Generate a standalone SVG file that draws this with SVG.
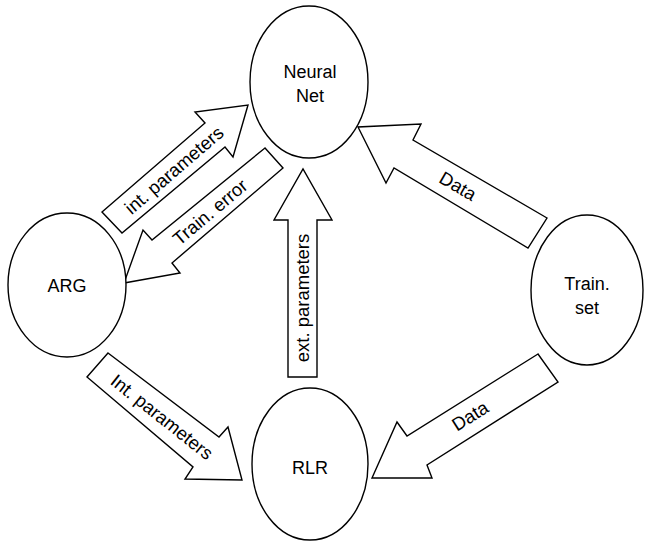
<svg xmlns="http://www.w3.org/2000/svg" width="645" height="542" viewBox="0 0 645 542">
<style>
.n{fill:#fff;stroke:#000;stroke-width:1.4}
.a{fill:#fff;stroke:#000;stroke-width:1.4;stroke-linejoin:miter}
text{font-family:"Liberation Sans",Arial,sans-serif;font-size:18px;fill:#000;text-anchor:middle;dominant-baseline:central}
.l{font-size:18.5px}
</style>
<rect width="645" height="542" fill="#fff"/>
<g id="connectors">
<g id="int-params-top"><polygon class="a" points="102,212 205,123 195,112 248,105 233,157 225,147 122,233"/><text class="l" transform="translate(174,170) rotate(-40.8)">int. parameters</text></g>
<g id="train-error"><polygon class="a" points="265,148 152,240 143,230 124,283 180,273 172,263 283,168"/><text class="l" transform="translate(210,212) rotate(-40)">Train. error</text></g>
<g id="data-top"><polygon class="a" points="547,218 413,140 421,124 358,127 386,183 394,168 528,248"/><text class="l" transform="translate(458,186) rotate(30.2)">Data</text></g>
<g id="ext-params"><polygon class="a" points="288,377 288,220 274,220 303,169 332,220 317,220 317,377"/><text class="l" transform="translate(302,298) rotate(-90)">ext. parameters</text></g>
<g id="int-params-bottom"><polygon class="a" points="108,353 219,437 228,427 242,480 185,479 193,467 87,377"/><text class="l" transform="translate(162,417) rotate(38.5)">Int. parameters</text></g>
<g id="data-bottom"><polygon class="a" points="538,354 407,436 397,422 372,478 432,478 427,465 558,382"/><text class="l" transform="translate(470,416) rotate(-32)">Data</text></g>
</g>
<g id="neural-net"><ellipse class="n" cx="309" cy="82" rx="59" ry="76"/><text x="310" y="72">Neural</text><text x="310" y="96">Net</text></g>
<g id="arg"><ellipse class="n" cx="67" cy="285" rx="59" ry="72"/><text x="67" y="286">ARG</text></g>
<g id="train-set"><ellipse class="n" cx="587" cy="290" rx="56" ry="75"/><text x="587" y="284">Train.</text><text x="587" y="308">set</text></g>
<g id="rlr"><ellipse class="n" cx="310" cy="464" rx="58" ry="76"/><text x="310" y="468">RLR</text></g>
</svg>
